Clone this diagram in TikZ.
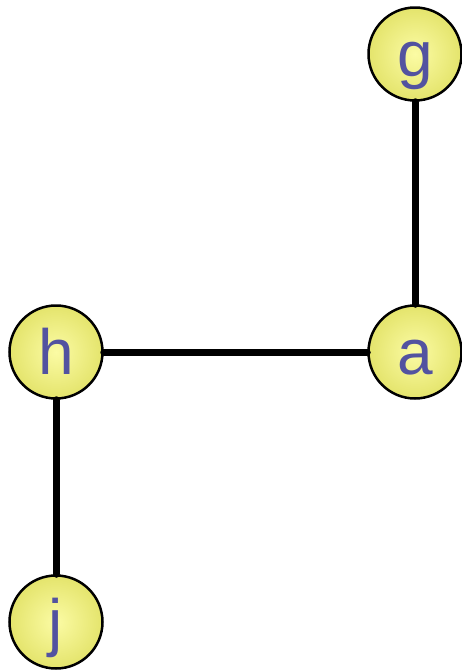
\documentclass[tikz,border=0pt]{standalone}
\usepackage{fontspec}
\setmainfont{Liberation Sans}
\definecolor{nodeIn}{HTML}{FBFBA4}
\definecolor{nodeOut}{HTML}{E4E46C}
\definecolor{labelc}{HTML}{5252A0}
\tikzset{
  vertex/.style={circle, draw=black, line width=2.5pt, minimum size=93pt, inner sep=0pt,
    inner color=nodeIn, outer color=nodeOut, text=labelc,
    font=\fontsize{64}{64}\selectfont, text height=44pt, text depth=0pt},
  edge/.style={line width=7pt, line cap=round, black}
}
\begin{document}
\begin{tikzpicture}[x=1pt,y=-1pt]
\useasboundingbox (0,0) rectangle (462,670);
\node[vertex] (g) at (415,54) {g};
\node[vertex] (a) at (415,352) {a};
\node[vertex] (h) at (56,352) {h};
\node[vertex] (j) at (56,622) {j};
\draw[edge] (g) -- (a);
\draw[edge] (h) -- (a);
\draw[edge] (h) -- (j);
\end{tikzpicture}
\end{document}
